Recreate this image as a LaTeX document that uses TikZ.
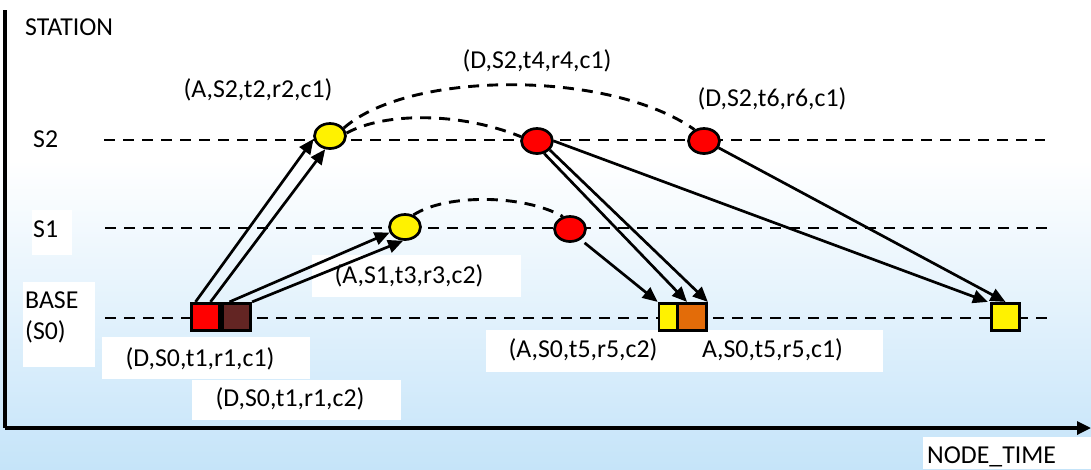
\documentclass[tikz,border=0pt]{standalone}
\usepackage{fontspec}
\setmainfont{Carlito}
\usetikzlibrary{arrows.meta,shapes.geometric}
\definecolor{bgblue}{RGB}{197,228,249}
\definecolor{brownsq}{RGB}{99,37,35}
\definecolor{orangesq}{RGB}{227,108,9}
\begin{document}
\begin{tikzpicture}[x=1pt,y=-1pt,
  font=\fontsize{25.8}{31}\selectfont,
  gridline/.style={line width=2.9pt, dash pattern=on 11pt off 8pt},
  axisline/.style={line width=3.2pt},
  arr/.style={line width=2.7pt, -{Triangle[length=15pt,width=13pt]}},
  evt/.style={ellipse, draw, line width=2.7pt, minimum width=31pt, minimum height=25pt, inner sep=0pt},
  sqr/.style={rectangle, draw, line width=2.7pt, minimum height=27.5pt, inner sep=0pt},
  lbl/.style={inner sep=0pt},
  wbox/.style={fill=white}]
\useasboundingbox (0,0) rectangle (1091,469);
% background
\fill[white] (0,0) rectangle (1091,160);
\shade[top color=white, bottom color=bgblue] (0,159.5) rectangle (1091,469);
% white label boxes
\fill[wbox] (32,210) rectangle (72,255);
\fill[wbox] (23,282) rectangle (95,367);
\fill[wbox] (102,337) rectangle (310,379);
\fill[wbox] (192,380) rectangle (401,420);
\fill[wbox] (312,255) rectangle (521,297);
\fill[wbox] (486,330) rectangle (698,372);
\fill[wbox] (698,330) rectangle (883,372);
\fill[wbox] (923,437) rectangle (1091,469);
% axes
\coordinate (ytop) at (5,10);
\coordinate (origin) at (5,428);
\coordinate (xend) at (1091,428);
\draw[axisline] (ytop) -- (origin);
\draw[axisline, -{Triangle[length=14pt,width=13pt]}] (origin) -- (xend);
% station lines
\coordinate (g2a) at (104,140); \coordinate (g2b) at (1045,140);
\coordinate (g1a) at (105,228); \coordinate (g1b) at (1047,228);
\coordinate (g0a) at (105,318); \coordinate (g0b) at (1047,318);
\draw[gridline] (g2a) -- (g2b);
\draw[gridline] (g1a) -- (g1b);
\draw[gridline] (g0a) -- (g0b);
% axis / station labels
\node[lbl, anchor=base west] (station) at (25,35) {STATION};
\node[lbl, anchor=base west] (ls2) at (33,147) {S2};
\node[lbl, anchor=base west] (ls1) at (33,237) {S1};
\node[lbl, anchor=west, align=left] (lbase) at (25,317) {BASE\\(S0)};
\node[lbl, anchor=base west] (ltime) at (927,463) {NODE\_TIME};
% event labels
\node[lbl] (t1) at (258,90) {(A,S2,t2,r2,c1)};
\node[lbl] (t2) at (537,61) {(D,S2,t4,r4,c1)};
\node[lbl] (t3) at (772,99) {(D,S2,t6,r6,c1)};
\node[lbl] (t4) at (409,276) {(A,S1,t3,r3,c2)};
\node[lbl] (t5) at (200,359) {(D,S0,t1,r1,c1)};
\node[lbl] (t6) at (290,399) {(D,S0,t1,r1,c2)};
\node[lbl] (t7) at (583,350) {(A,S0,t5,r5,c2)};
\node[lbl] (t8) at (772.5,350) {A,S0,t5,r5,c1)};
% event nodes
\node[sqr, fill=red, minimum width=28.5pt] (r1) at (205.5,317) {};
\node[sqr, fill=brownsq, minimum width=28.5pt] (r2) at (236.5,317) {};
\node[evt, fill=yellow] (yS2) at (330,136) {};
\node[evt, fill=yellow] (yS1) at (405,227) {};
\node[evt, fill=red] (rM) at (537,141) {};
\node[evt, fill=red] (rR) at (704,141) {};
\node[evt, fill=red] (rS1) at (570,229) {};
\node[sqr, fill=yellow, minimum width=18pt] (ys) at (668,317) {};
\node[sqr, fill=orangesq, minimum width=29pt] (o) at (692,317) {};
\node[sqr, fill=yellow, minimum width=28.5pt] (sq) at (1005.5,317) {};
% dashed curves
\draw[gridline] (yS2.30) .. controls (410,70) and (610,70) .. (rR.130);
\draw[gridline] (yS2.10) .. controls (385,112) and (460,112) .. (rM.165);
\draw[gridline] (yS1.55) .. controls (445,194) and (523,194) .. (rS1.120);
% arrows
\draw[arr] ([xshift=-10pt]r1.north) -- (yS2.190);
\draw[arr] ([xshift=5pt]r1.north) -- (yS2.250);
\draw[arr] ([xshift=-7pt]r2.north) -- (yS1.200);
\draw[arr] (r2.north east) -- (yS1.262);
\draw[arr] (rM.300) -- ([xshift=-5pt]o.north);
\draw[arr] (rM.325) -- (o.north east);
\draw[arr, shorten <=5pt] (rS1.315) -- (ys.north west);
\draw[arr] (rM.east) -- ([xshift=-2pt]sq.north west);
\draw[arr] (rR.335) -- (sq.north);
\end{tikzpicture}
\end{document}
